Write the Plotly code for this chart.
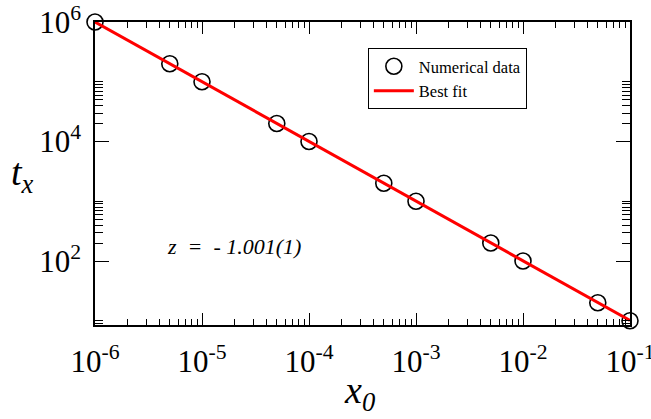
import plotly.graph_objects as go

# Data
x0_values = [1e-6, 5e-6, 1e-5, 5e-5, 1e-4, 5e-4, 1e-3, 5e-3, 1e-2, 5e-2, 1e-1]
tx_values = [1e6, 2e5, 1e5, 2e4, 1e4, 2e3, 1e3, 2e2, 1e2, 2e1, 1e1]

fit_x = [1e-6, 1e-1]
fit_y = [1e6, 10.1]

x_major_vals = [1e-6, 1e-5, 1e-4, 1e-3, 1e-2, 1e-1]
x_major_text = ["10<sup>-6</sup>", "10<sup>-5</sup>", "10<sup>-4</sup>",
                "10<sup>-3</sup>", "10<sup>-2</sup>", "10<sup>-1</sup>"]
y_major_vals = [1e2, 1e4, 1e6]
y_major_text = ["10<sup>2</sup>", "10<sup>4</sup>", "10<sup>6</sup>"]

x_minor_vals = [m * d for d in [1e-6, 1e-5, 1e-4, 1e-3, 1e-2] for m in range(2, 10)]
y_minor_vals = [9, 10, 200, 300, 400, 500, 600, 700, 800, 900, 1000,
                2e4, 3e4, 4e4, 5e4, 6e4, 7e4, 8e4, 9e4, 1e5]

FONT = "Liberation Serif, Times New Roman, serif"

fig = go.Figure()
fig.add_trace(go.Scatter(
    x=x0_values, y=tx_values, mode="markers", name="Numerical data",
    marker=dict(symbol="circle-open", size=16, color="black", line=dict(width=1.6, color="black")),
    cliponaxis=False,
))
fig.add_trace(go.Scatter(
    x=fit_x, y=fit_y, mode="lines", name="Best fit",
    line=dict(color="red", width=3),
))

axis_common = dict(
    type="log", showgrid=False, zeroline=False, automargin=False,
    showline=True, linecolor="black", linewidth=1.5,
    mirror="ticks", ticks="inside", tickcolor="black", tickwidth=1.2,
    tickmode="array", ticklabeloverflow="allow",
    tickfont=dict(family=FONT, size=31, color="black"),
)

fig.update_xaxes(
    **axis_common,
    range=[-6, -0.99995], ticklen=12,
    tickvals=x_major_vals, ticktext=x_major_text,
    ticklabelstandoff=8,
    minor=dict(tickmode="array", tickvals=x_minor_vals, ticks="inside",
               ticklen=6, tickcolor="black", tickwidth=1.2, showgrid=False),
)
fig.update_yaxes(
    **axis_common,
    range=[0.929, 6.0001], ticklen=14,
    tickvals=y_major_vals, ticktext=y_major_text,
    ticklabelstandoff=6,
    minor=dict(tickmode="array", tickvals=y_minor_vals, ticks="inside",
               ticklen=8, tickcolor="black", tickwidth=1.2, showgrid=False),
)

fig.add_annotation(
    text="<i>t</i><sub><i>x</i></sub>", xref="paper", yref="paper",
    x=-0.16, y=0.495, xanchor="left", yanchor="middle", showarrow=False,
    font=dict(family=FONT, size=38, color="black"),
)
fig.add_annotation(
    text="<i>x</i><sub><i>0</i></sub>", xref="paper", yref="paper",
    x=0.495, y=-0.225, xanchor="center", yanchor="middle", showarrow=False,
    font=dict(family=FONT, size=38, color="black"),
)
fig.add_annotation(
    text="<i>z  =  - 1.001(1)</i>", xref="paper", yref="paper",
    x=0.13, y=0.26, xanchor="left", yanchor="middle", showarrow=False,
    font=dict(family=FONT, size=22, color="black"),
)

fig.update_layout(
    width=651, height=419,
    margin=dict(l=95, r=21, t=22, b=94),
    paper_bgcolor="white", plot_bgcolor="white",
    font=dict(family=FONT, color="black"),
    showlegend=True,
    legend=dict(
        x=0.51, y=0.914, xanchor="left", yanchor="top",
        bgcolor="white", bordercolor="black", borderwidth=1,
        font=dict(family=FONT, size=16.5, color="black"),
        itemwidth=40, tracegroupgap=0,
    ),
)

fig.write_html("out.html", config={"displayModeBar": False},
               post_script="document.body.style.margin='0';")
